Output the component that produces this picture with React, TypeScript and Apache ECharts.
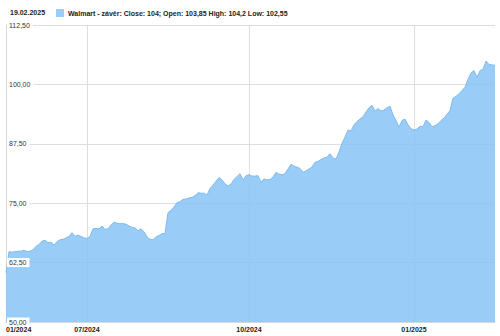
import React, { useEffect, useRef } from "react";
import * as echarts from "echarts";

// Walmart close, sampled evenly along the trading-day axis
const closeValues: number[] = [
  60.4, 64.8, 64.7, 64.8, 64.9, 64.9, 65.1, 64.8, 64.9, 65.2,
  65.9, 66.3, 67.0, 67.2, 66.7, 66.8, 66.2, 66.9, 67.3, 67.4,
  67.7, 68.0, 68.8, 68.0, 68.3, 68.0, 67.7, 67.6, 68.0, 69.6,
  69.7, 69.6, 70.2, 69.5, 69.6, 70.4, 71.0, 70.8, 70.7, 70.7,
  70.6, 70.2, 69.9, 69.8, 69.2, 69.6, 69.0, 67.9, 67.4, 67.3,
  67.9, 68.2, 68.6, 68.6, 73.0, 73.5, 74.2, 75.1, 75.3, 75.8,
  75.9, 76.1, 76.2, 76.6, 77.2, 77.1, 77.1, 76.7, 78.1, 78.8,
  79.6, 80.4, 79.9, 79.1, 78.6, 79.0, 80.0, 80.6, 81.2, 79.9,
  80.8, 81.0, 80.7, 80.7, 80.8, 79.4, 80.1, 79.9, 80.0, 80.5,
  81.5, 81.1, 81.0, 81.2, 82.2, 83.2, 82.8, 82.6, 82.3, 81.5,
  81.8, 82.2, 82.6, 83.6, 83.8, 84.2, 84.5, 84.7, 85.4, 84.5,
  84.3, 85.8, 87.6, 88.9, 90.4, 90.2, 91.5, 92.2, 92.7, 93.2,
  94.2, 95.1, 95.6, 94.4, 94.9, 94.4, 94.6, 95.1, 95.4, 93.6,
  92.4, 91.0, 92.4, 92.7, 91.5, 90.7, 90.4, 90.6, 91.2, 91.1,
  92.5, 92.0, 91.1, 91.3, 91.7, 92.4, 92.9, 93.7, 94.5, 97.1,
  97.5, 98.0, 98.7, 99.4, 101.1, 102.4, 102.9, 101.5, 102.9, 103.2,
  104.9, 104.2, 104.1, 104.0,
];
const categories: string[] = closeValues.map((_, i) => String(i));
const tickIndices: number[] = [0, 27, 81, 136];
const tickLabels: string[] = ["01/2024", "07/2024", "10/2024", "01/2025"];

const titleDate = "19.02.2025";
const seriesName = "Walmart - závěr";
const lastClose = "104";
const lastOpen = "103,85";
const lastHigh = "104,2";
const lastLow = "102,55";

const yMin = 50;
const yMax = 112.5;
const yStep = 12.5;

const FONT = "Liberation Sans, Arial, sans-serif";

export default function App() {
  const ref = useRef<HTMLDivElement>(null);
  useEffect(() => {
    if (!ref.current) return;
    const chart = echarts.init(ref.current, undefined, { renderer: "svg" });
    const isTick = (i: number) => tickIndices.includes(i);
    const fmtY = (v: number) => v.toFixed(2).replace(".", ",");
    chart.setOption({
      animation: false,
      backgroundColor: "#ffffff",
      textStyle: { fontFamily: FONT },
      title: {
        text: titleDate,
        left: 10,
        top: 9,
        padding: 0,
        textStyle: { fontSize: 7, fontWeight: "bold", color: "#222", fontFamily: FONT },
      },
      legend: {
        left: 56,
        top: 9,
        padding: 0,
        icon: "rect",
        itemWidth: 8,
        itemHeight: 8,
        itemGap: 5,
        data: [seriesName],
        formatter: (name: string) =>
          `${name}: Close: ${lastClose}; Open: ${lastOpen} High: ${lastHigh} Low: ${lastLow}`,
        textStyle: { fontSize: 7, fontWeight: "bold", color: "#222", fontFamily: FONT, padding: [0, 0, 0, -1] },
      },
      grid: { left: 6, right: 5, top: 25, bottom: 14, containLabel: false },
      xAxis: {
        type: "category",
        data: categories,
        boundaryGap: false,
        axisLine: { show: true, lineStyle: { color: "#d8d8d8" } },
        axisTick: { show: false },
        axisLabel: {
          interval: (i: number) => isTick(i),
          formatter: (_v: string, i: number) => tickLabels[tickIndices.indexOf(i)] ?? "",
          fontSize: 7,
          fontWeight: "bold",
          color: "#222",
          margin: 4,
          alignMinLabel: "left",
          fontFamily: FONT,
        },
        splitLine: {
          show: true,
          interval: (i: number) => isTick(i) && i !== 0,
          lineStyle: { color: "#dedede", width: 1 },
        },
      },
      yAxis: [
        {
          type: "value",
          min: yMin,
          max: yMax,
          interval: yStep,
          axisLine: { show: true, lineStyle: { color: "#d8d8d8" } },
          axisTick: { show: false },
          axisLabel: { show: false },
          splitLine: { show: true, lineStyle: { color: "#dedede", width: 1 } },
        },
        {
          type: "value",
          position: "left",
          min: yMin,
          max: yMax,
          interval: yStep,
          z: 10,
          axisLine: { show: false },
          axisTick: { show: false },
          splitLine: { show: false },
          axisLabel: {
            inside: true,
            margin: 1,
            formatter: (v: number) => fmtY(v),
            fontSize: 7,
            color: "#333",
            backgroundColor: "#ffffff",
            padding: [1, 3, 1, 2],
            fontFamily: FONT,
          },
        },
      ],
      series: [
        {
          name: seriesName,
          type: "line",
          data: closeValues,
          yAxisIndex: 0,
          showSymbol: false,
          symbol: "none",
          lineStyle: { color: "#7fbbef", width: 1 },
          itemStyle: { color: "#99cdf6" },
          areaStyle: { color: "rgb(135,195,244)", opacity: 0.85 },
        },
      ],
    });
    return () => chart.dispose();
  }, []);
  return (
    <div
      ref={ref}
      style={{ position: "fixed", left: 0, top: 0, width: 500, height: 336 }}
    />
  );
}
